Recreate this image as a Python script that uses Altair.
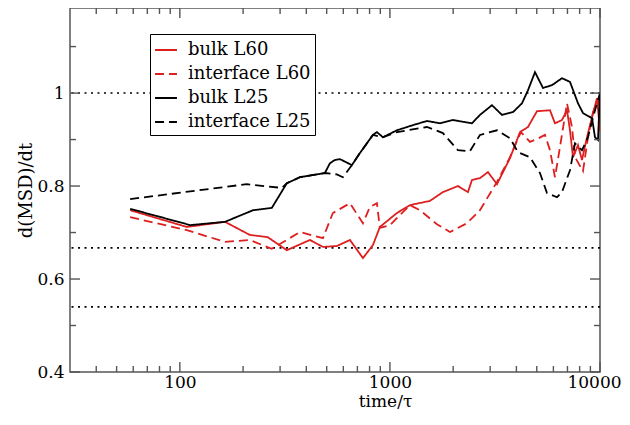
import altair as alt
import pandas as pd

# ---- data ----
bulk_L25_t = [58, 112, 164, 223, 274, 323, 373, 490, 518, 547, 578, 659, 720, 830, 867, 926, 1080, 1287, 1501, 1730, 1995, 2458, 2683, 3060, 3415, 3852, 4252, 4541, 4903, 5353, 5908, 6592, 7197, 7857, 8299, 9162, 9467, 9783, 10000]
bulk_L25_v = [0.751, 0.716, 0.723, 0.748, 0.753, 0.806, 0.819, 0.828, 0.849, 0.856, 0.858, 0.845, 0.871, 0.910, 0.916, 0.905, 0.920, 0.931, 0.940, 0.935, 0.942, 0.935, 0.953, 0.974, 0.953, 0.959, 0.978, 1.006, 1.045, 1.011, 1.017, 1.032, 1.024, 0.978, 0.957, 0.946, 0.905, 0.899, 1.002]

int_L25_t = [58, 208, 306, 323, 373, 490, 559, 597, 659, 720, 830, 926, 1080, 1501, 1788, 2108, 2404, 2683, 3233, 3728, 4069, 4642, 5179, 5593, 6241, 6592, 7197, 7603, 8209, 8768, 9264, 10000]
int_L25_v = [0.772, 0.804, 0.796, 0.806, 0.819, 0.828, 0.825, 0.819, 0.845, 0.871, 0.910, 0.905, 0.916, 0.927, 0.914, 0.877, 0.875, 0.910, 0.920, 0.903, 0.873, 0.862, 0.828, 0.785, 0.776, 0.787, 0.834, 0.892, 0.877, 0.905, 0.948, 1.000]

bulk_L60_t = [58, 108, 164, 215, 262, 323, 416, 480, 559, 645, 744, 830, 896, 1080, 1245, 1550, 1788, 2108, 2352, 2458, 2683, 2929, 3233, 3728, 4160, 4541, 5012, 5780, 6105, 6592, 6965, 7197, 7437, 7857, 8209, 8673, 9162, 9676, 10000]
bulk_L60_v = [0.748, 0.712, 0.723, 0.695, 0.690, 0.662, 0.684, 0.669, 0.671, 0.684, 0.645, 0.673, 0.712, 0.742, 0.759, 0.768, 0.787, 0.800, 0.787, 0.813, 0.817, 0.830, 0.804, 0.860, 0.916, 0.927, 0.961, 0.963, 0.935, 0.942, 0.963, 0.920, 0.862, 0.888, 0.856, 0.905, 0.948, 0.989, 0.918]

int_L60_t = [58, 108, 164, 215, 274, 373, 480, 535, 645, 744, 803, 867, 896, 1000, 1245, 1389, 1674, 1931, 2326, 2683, 3233, 3728, 4200, 4642, 5012, 5471, 5780, 6105, 6449, 6965, 7356, 7603, 8299, 8768, 9264, 9783, 10000]
int_L60_v = [0.733, 0.705, 0.680, 0.684, 0.665, 0.701, 0.688, 0.742, 0.763, 0.720, 0.755, 0.763, 0.710, 0.716, 0.759, 0.748, 0.718, 0.701, 0.720, 0.748, 0.809, 0.862, 0.916, 0.895, 0.901, 0.910, 0.877, 0.819, 0.884, 0.978, 0.927, 0.862, 0.832, 0.905, 0.959, 0.985, 0.968]

series_names = ["bulk L60", "interface L60", "bulk L25", "interface L25"]
series_colors = ["#dd1f1f", "#dd1f1f", "#000000", "#000000"]
series_dash = [[1, 0], [9, 5], [1, 0], [9, 5]]

ref_levels = [1.0, 0.667, 0.54]

x_labels = [100, 1000, 10000]
x_minor = [40, 50, 60, 70, 80, 90, 200, 300, 400, 500, 600, 700, 800, 900,
           2000, 3000, 4000, 5000, 6000, 7000, 8000, 9000]
y_labels = [0.4, 0.6, 0.8, 1.0]
y_minor = [0.5, 0.7, 0.9, 1.1]

# ---- build tables ----
rows = []
for name, ts, vs in [("bulk L60", bulk_L60_t, bulk_L60_v),
                     ("interface L60", int_L60_t, int_L60_v),
                     ("bulk L25", bulk_L25_t, bulk_L25_v),
                     ("interface L25", int_L25_t, int_L25_v)]:
    for t, v in zip(ts, vs):
        rows.append({"series": name, "t": t, "v": v})
df = pd.DataFrame(rows)

W, H = 530, 364
FONT = "DejaVu Serif"

xscale = alt.Scale(type="log", domain=[30, 10000], nice=False)
yscale = alt.Scale(domain=[0.4, 1.183], nice=False, zero=False)
xaxis = alt.Axis(values=x_labels, format="d", title="time/τ", grid=False,
                 ticks=False, domain=False, labelPadding=2, titlePadding=3,
                 labelFontSize=17, titleFontSize=17, titleX=315,
                 titleFontWeight="normal", labelColor="black",
                 titleColor="black", labelFlush=False,
                 labelOffset=alt.expr("datum.value == 10000 ? -6 : 0"))
yaxis = alt.Axis(values=y_labels, format="~g", title="d(MSD)/dt", grid=False,
                 ticks=False, domain=False, labelPadding=6, titlePadding=1,
                 labelFontSize=17, titleFontSize=18,
                 titleFontWeight="normal", labelColor="black",
                 titleColor="black", labelFlush=False)


def X(field):
    return alt.X(field, type="quantitative", scale=xscale, axis=xaxis)


def Y(field):
    return alt.Y(field, type="quantitative", scale=yscale, axis=yaxis)


dotted = alt.Chart(pd.DataFrame({"lvl": ref_levels})).mark_rule(
    color="black", strokeDash=[2, 4.5], strokeWidth=1.6
).encode(y=Y("lvl"))

lines = alt.Chart(df).mark_line(strokeWidth=1.8, clip=True).encode(
    x=X("t"),
    y=Y("v"),
    color=alt.Color("series:N", scale=alt.Scale(domain=series_names, range=series_colors),
                    legend=alt.Legend(title=None, orient="none", legendX=80, legendY=26,
                                      labelFontSize=18, labelColor="black",
                                      symbolType="stroke", symbolSize=480,
                                      symbolStrokeWidth=2, labelOffset=10,
                                      rowPadding=3, padding=4, strokeColor="black",
                                      fillColor="white", labelLimit=300)),
    strokeDash=alt.StrokeDash("series:N", scale=alt.Scale(domain=series_names, range=series_dash),
                              legend=alt.Legend(title=None, orient="none", legendX=80, legendY=26)),
)

tick_style = dict(color="#555555", strokeWidth=1.4)
xmaj = pd.DataFrame({"xv": x_labels})
xmin = pd.DataFrame({"xv": x_minor})
ymaj = pd.DataFrame({"yv": y_labels})
ymin = pd.DataFrame({"yv": y_minor})

ticks = [
    alt.Chart(xmaj).mark_rule(**tick_style).encode(x=X("xv"), y=alt.value(H), y2=alt.value(H - 10)),
    alt.Chart(xmin).mark_rule(**tick_style).encode(x=X("xv"), y=alt.value(H), y2=alt.value(H - 6)),
    alt.Chart(xmaj).mark_rule(**tick_style).encode(x=X("xv"), y=alt.value(0), y2=alt.value(10)),
    alt.Chart(xmin).mark_rule(**tick_style).encode(x=X("xv"), y=alt.value(0), y2=alt.value(6)),
    alt.Chart(ymaj).mark_rule(**tick_style).encode(y=Y("yv"), x=alt.value(0), x2=alt.value(10)),
    alt.Chart(ymin).mark_rule(**tick_style).encode(y=Y("yv"), x=alt.value(0), x2=alt.value(6)),
    alt.Chart(ymaj).mark_rule(**tick_style).encode(y=Y("yv"), x=alt.value(W), x2=alt.value(W - 10)),
    alt.Chart(ymin).mark_rule(**tick_style).encode(y=Y("yv"), x=alt.value(W), x2=alt.value(W - 6)),
]

chart = alt.layer(dotted, lines, *ticks).properties(
    width=W, height=H,
    autosize=alt.AutoSizeParams(type="none"),
    padding={"left": 62, "top": 0, "right": 22, "bottom": 45},
    background="white",
).configure(font=FONT).configure_axis(
    labelFont=FONT, titleFont=FONT
).configure_legend(labelFont=FONT).configure_view(stroke="#555555", strokeWidth=1.5)

chart.save("out.html", embed_options={"renderer": "svg", "actions": False})
